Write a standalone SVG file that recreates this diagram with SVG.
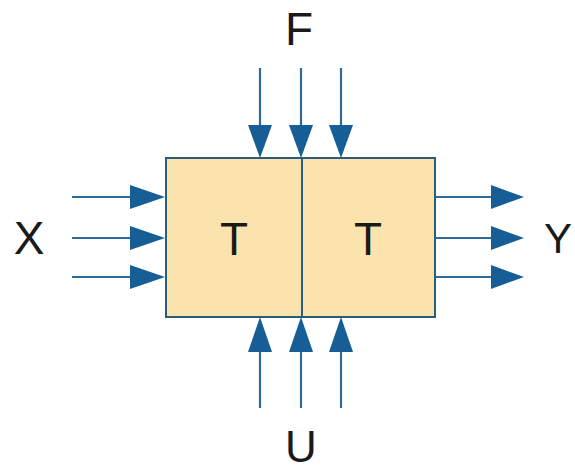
<svg xmlns="http://www.w3.org/2000/svg" width="575" height="474" viewBox="0 0 575 474">
<style>
.lbl{font-family:"Liberation Sans",Arial,sans-serif;font-size:46px;fill:#1a1a1a;text-anchor:middle}
.ln{stroke:#2f6a99;stroke-width:2.2;fill:none}
.hd{fill:#175d96}
.box{fill:#fbe3ad;stroke:#2b5d7a;stroke-width:2}
</style>
<rect width="575" height="474" fill="#ffffff"/>
<g id="node-T1">
<rect class="box" x="166" y="158" width="136" height="159"/>
<text class="lbl" x="234" y="255">T</text>
</g>
<g id="node-T2">
<rect class="box" x="302" y="158" width="133" height="159"/>
<text class="lbl" x="368" y="255">T</text>
</g>
<g id="connectors">
<line class="ln" x1="260" y1="68" x2="260" y2="128"/>
<line class="ln" x1="301" y1="68" x2="301" y2="128"/>
<line class="ln" x1="341" y1="68" x2="341" y2="128"/>
<polygon class="hd" points="248,125 272,125 260,158"/>
<polygon class="hd" points="289,125 313,125 301,158"/>
<polygon class="hd" points="329,125 353,125 341,158"/>
<line class="ln" x1="72" y1="197" x2="133" y2="197"/>
<line class="ln" x1="72" y1="238" x2="133" y2="238"/>
<line class="ln" x1="72" y1="277" x2="133" y2="277"/>
<polygon class="hd" points="130,185 130,209 165,197"/>
<polygon class="hd" points="130,226 130,250 165,238"/>
<polygon class="hd" points="130,265 130,289 165,277"/>
<line class="ln" x1="435" y1="197" x2="494" y2="197"/>
<line class="ln" x1="435" y1="238" x2="494" y2="238"/>
<line class="ln" x1="435" y1="277" x2="494" y2="277"/>
<polygon class="hd" points="491,185 491,209 524,197"/>
<polygon class="hd" points="491,226 491,250 524,238"/>
<polygon class="hd" points="491,265 491,289 524,277"/>
<line class="ln" x1="260" y1="349" x2="260" y2="408"/>
<line class="ln" x1="301" y1="349" x2="301" y2="408"/>
<line class="ln" x1="341" y1="349" x2="341" y2="408"/>
<polygon class="hd" points="248,352 272,352 260,317"/>
<polygon class="hd" points="289,352 313,352 301,317"/>
<polygon class="hd" points="329,352 353,352 341,317"/>
</g>
<text class="lbl" x="299" y="45">F</text>
<text class="lbl" x="29" y="254">X</text>
<text class="lbl" x="558" y="253" style="font-size:42px">Y</text>
<text class="lbl" x="301" y="462" style="font-size:44px">U</text>
</svg>
